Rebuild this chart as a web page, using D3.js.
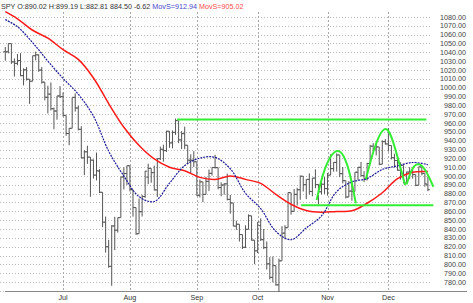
<!DOCTYPE html>
<html>
<head>
<meta charset="utf-8">
<script src="https://cdn.jsdelivr.net/npm/d3@7"></script>
<style>
  body { margin: 0; background: #fff; }
  svg { display: block; font-family: "Liberation Sans", Arial, sans-serif; }
</style>
</head>
<body>
<script>
// trading days shown (2002)
var dates = [
  "06-04","06-05","06-06","06-07","06-10","06-11","06-12","06-13","06-14","06-17","06-18","06-19","06-20","06-21","06-24","06-25","06-26","06-27","06-28",
  "07-01","07-02","07-03","07-05","07-08","07-09","07-10","07-11","07-12","07-15","07-16","07-17","07-18","07-19","07-22","07-23","07-24","07-25","07-26","07-29","07-30","07-31",
  "08-01","08-02","08-05","08-06","08-07","08-08","08-09","08-12","08-13","08-14","08-15","08-16","08-19","08-20","08-21","08-22","08-23","08-26","08-27","08-28","08-29","08-30",
  "09-03","09-04","09-05","09-06","09-09","09-10","09-11","09-12","09-13","09-16","09-17","09-18","09-19","09-20","09-23","09-24","09-25","09-26","09-27","09-30",
  "10-01","10-02","10-03","10-04","10-07","10-08","10-09","10-10","10-11","10-14","10-15","10-16","10-17","10-18","10-21","10-22","10-23","10-24","10-25","10-28","10-29","10-30","10-31",
  "11-01","11-04","11-05","11-06","11-07","11-08","11-11","11-12","11-13","11-14","11-15","11-18","11-19","11-20","11-21","11-22","11-25","11-26","11-27","11-29",
  "12-02","12-03","12-04","12-05","12-06","12-09","12-10","12-11","12-12","12-13","12-16","12-17","12-18","12-19"
];
var open = [1040.68,1040.69,1049.90,1029.15,1027.53,1030.74,1013.60,1020.26,1009.56,1007.27,1036.17,1037.14,1019.99,1006.29,989.14,992.72,976.14,973.53,990.64,
  989.82,968.65,948.09,953.99,989.03,976.98,952.83,920.47,927.37,921.39,917.93,901.05,905.45,881.56,847.76,819.85,797.71,843.42,838.68,852.84,898.96,902.78,
  911.62,884.40,864.24,834.60,859.57,876.77,898.73,908.64,903.80,884.21,919.62,930.25,928.77,950.70,937.43,949.36,962.70,940.86,947.95,934.82,917.87,917.80,
  916.07,878.02,893.40,879.15,893.92,902.96,909.58,909.45,886.91,889.81,891.10,873.52,869.46,843.32,845.39,833.70,819.27,839.66,854.95,827.37,
  815.28,843.77,827.91,818.95,800.58,785.28,798.55,776.76,803.92,835.32,841.44,881.04,860.02,879.20,884.39,899.72,890.16,896.14,882.50,897.65,890.23,882.15,890.71,
  885.76,900.96,908.35,915.39,923.76,902.65,894.74,876.19,882.95,882.53,904.27,909.83,900.36,896.74,914.15,933.76,930.55,932.87,913.31,938.87,
  936.31,934.53,920.75,917.58,906.55,912.23,892.00,904.45,904.96,901.58,889.48,910.40,902.99,890.02];
var high = [1046.06,1050.11,1049.90,1033.02,1038.18,1039.04,1021.85,1023.47,1009.56,1036.17,1040.83,1037.61,1023.33,1006.29,1002.11,1005.88,977.43,990.67,1001.79,
  994.46,968.65,954.30,989.07,993.56,979.63,956.34,929.16,934.31,921.39,918.65,926.52,907.80,881.56,854.13,827.69,844.32,853.83,852.85,898.96,909.81,911.64,
  911.62,884.72,864.24,874.44,878.74,905.84,913.95,908.64,911.71,920.21,933.29,935.38,951.17,950.70,951.59,965.00,962.70,950.80,955.82,934.82,924.59,928.15,
  916.07,896.10,893.40,899.07,907.34,909.89,924.02,909.45,892.75,891.84,902.68,878.45,869.46,849.32,845.39,833.70,844.22,856.60,854.95,827.37,
  847.93,851.93,840.02,825.90,808.21,808.86,798.55,806.51,843.27,844.39,881.27,881.04,885.35,886.68,900.69,899.72,896.14,902.94,897.71,907.44,890.64,895.28,898.83,
  903.42,924.58,915.83,925.66,923.76,910.11,894.74,894.30,892.51,904.27,910.21,915.91,905.45,915.01,935.13,937.15,937.15,932.87,940.41,941.82,
  954.28,934.53,925.25,921.49,915.48,912.23,904.95,909.94,908.37,901.58,910.42,910.40,902.99,899.19];
var low = [1030.52,1038.84,1026.91,1012.49,1025.45,1012.94,1002.58,1008.12,981.63,1007.27,1030.92,1017.88,1004.59,985.65,970.85,974.21,952.92,963.74,988.31,
  967.43,945.54,934.87,953.99,972.91,951.71,920.29,900.94,913.71,876.46,897.13,895.03,880.60,842.07,813.26,796.13,775.68,816.11,835.92,852.84,884.70,889.88,
  882.48,853.95,833.44,834.60,854.15,875.17,890.77,892.38,883.62,876.20,918.17,916.21,927.21,931.86,931.32,946.43,937.17,930.42,930.36,913.21,903.33,910.17,
  877.51,875.73,870.50,879.15,882.92,900.50,908.47,884.84,877.04,878.91,872.38,857.39,843.09,839.09,825.76,817.38,818.46,839.66,826.84,800.20,
  812.82,826.50,817.25,794.10,782.96,779.50,775.80,768.63,803.92,828.37,841.44,856.28,860.02,866.58,873.06,882.40,873.82,879.00,877.03,886.15,867.91,879.19,879.75,
  877.71,900.96,904.91,905.00,898.68,891.62,874.63,876.19,872.05,882.53,895.35,899.48,893.09,894.93,914.15,928.45,923.31,912.10,913.31,935.58,
  927.72,918.73,909.51,905.90,895.96,891.97,892.00,896.48,897.00,888.48,889.48,900.77,887.82,882.81];
var close = [1040.69,1049.90,1029.15,1027.53,1030.74,1013.60,1020.26,1009.56,1007.27,1036.17,1037.14,1019.99,1006.29,989.14,992.72,976.14,973.53,990.64,989.82,
  968.65,948.09,953.99,989.03,976.98,952.83,920.47,927.37,921.39,917.93,900.94,906.04,881.56,847.75,819.85,797.70,843.43,838.68,852.84,898.96,902.78,911.62,
  884.66,864.24,834.60,859.57,876.77,905.46,908.64,903.80,884.21,919.62,930.25,928.77,950.70,937.43,949.36,962.70,940.86,947.95,934.82,917.87,917.80,916.07,
  878.02,893.40,879.15,893.92,902.96,909.58,909.45,886.91,889.81,891.10,873.52,869.46,843.32,845.39,833.70,819.29,839.66,854.95,827.37,815.28,
  847.91,827.91,818.95,800.58,785.28,798.55,776.76,803.92,835.32,841.44,881.27,860.02,879.20,884.39,899.72,890.16,896.14,882.50,897.65,890.23,882.15,890.71,885.76,
  900.96,908.35,915.39,923.76,902.65,894.74,876.19,882.95,882.53,904.27,909.83,900.36,896.74,914.15,933.76,930.55,932.87,913.31,938.87,936.31,
  934.53,920.75,917.58,906.55,912.23,892.00,904.45,904.96,901.58,889.48,910.40,902.99,891.12,884.50];

// moving averages read at every 5th bar
var maIdx = [0,4,9,14,19,24,29,34,39,44,49,54,59,64,69,74,79,84,89,94,99,104,109,114,119,124,129,134,139];
var ma20 = [1077,1069,1051,1030,1010.45,992.59,967.65,928.04,899.93,876.62,871.16,891.85,911.80,920.23,921.03,908.24,880.52,863.03,837.29,827.84,841.26,854.75,882.45,893.31,897.09,907.40,911.47,915.28,912.94];
var ma40 = [1086,1078,1065,1056,1043,1032,1011,982,955.19,934.61,919.41,909.94,905.87,898.42,896.10,900.04,896.16,891.63,879.16,868.04,860.89,858.89,859.87,860.58,869.17,881.07,896.96,904.29,905.02];

// green annotations: [bar index, price]
var levels = [
  [[56.5, 964], [138.5, 964]],
  [[97.3, 867], [140.8, 867]]
];
var arcs = [
  [[102.4, 872.8], [105.2, 908.6], [109.3, 928.2], [112.8, 908.6], [115.3, 869.0]],
  [[118.6, 896.5], [121.6, 933.1], [125.1, 953.2], [128.2, 931.3], [131.5, 889.7]],
  [[132.0, 890.5], [133.7, 906.7], [135.7, 913.2], [138.1, 906.7], [140.8, 887.8]]
];

var monthNames = ["Jul", "Aug", "Sep", "Oct", "Nov", "Dec"];
var yTicks = d3.range(780, 1081, 10);

var width = 473, height = 303;
var svg = d3.select("body").append("svg")
  .attr("width", width)
  .attr("height", height);

var x = d3.scaleLinear().domain([0, 139]).range([5.3, 427.9]);
var y = d3.scaleLinear().domain([780, 1080]).range([282, 17]);

// month starts
var monthStarts = [];
dates.forEach(function(d, i) {
  if (i > 0 && d.slice(0, 2) !== dates[i - 1].slice(0, 2)) monthStarts.push(i);
});

// horizontal grid
svg.append("g").selectAll("line")
  .data(yTicks.concat([770]))
  .enter().append("line")
    .attr("x1", 0).attr("x2", 430)
    .attr("y1", function(d) { return Math.round(y(d)) + 0.5; })
    .attr("y2", function(d) { return Math.round(y(d)) + 0.5; })
    .attr("stroke", "#b8b8b8")
    .attr("stroke-dasharray", "1,2");

// vertical grid
svg.append("g").selectAll("line")
  .data(monthStarts)
  .enter().append("line")
    .attr("x1", function(d) { return Math.round(x(d)) + 0.5; })
    .attr("x2", function(d) { return Math.round(x(d)) + 0.5; })
    .attr("y1", 12).attr("y2", 291)
    .attr("stroke", "#a8a8a8")
    .attr("stroke-dasharray", "2,2");

// bottom axis line
svg.append("line")
  .attr("x1", 5).attr("x2", 467)
  .attr("y1", 291.5).attr("y2", 291.5)
  .attr("stroke", "#888");

// y labels on the right
svg.append("g").selectAll("text")
  .data(yTicks)
  .enter().append("text")
    .attr("x", 466)
    .attr("y", function(d) { return y(d) + 2.5; })
    .attr("text-anchor", "end")
    .attr("font-size", "7.2px")
    .attr("fill", "#444")
    .text(function(d) { return d3.format(".2f")(d); });

// month labels
svg.append("g").selectAll("text")
  .data(monthStarts)
  .enter().append("text")
    .attr("x", function(d) { return x(d); })
    .attr("y", 300)
    .attr("text-anchor", "middle")
    .attr("font-size", "7.2px")
    .attr("fill", "#333")
    .text(function(d, i) { return monthNames[i]; });

// OHLC bars
var bars = svg.append("g").attr("stroke", "#555").attr("stroke-width", 1);
dates.forEach(function(d, i) {
  var cx = x(i);
  bars.append("line").attr("x1", cx).attr("x2", cx).attr("y1", y(high[i])).attr("y2", y(low[i]));
  bars.append("line").attr("x1", cx - 2).attr("x2", cx).attr("y1", y(open[i])).attr("y2", y(open[i]));
  bars.append("line").attr("x1", cx).attr("x2", cx + 2).attr("y1", y(close[i])).attr("y2", y(close[i]));
});

// moving averages
var maLine = d3.line()
  .x(function(d) { return x(d[0]); })
  .y(function(d) { return y(d[1]); })
  .curve(d3.curveCatmullRom);

svg.append("path")
  .datum(maIdx.map(function(v, i) { return [v, ma40[i]]; }))
  .attr("d", maLine)
  .attr("fill", "none")
  .attr("stroke", "#ff1a1a")
  .attr("stroke-width", 1.5);

svg.append("path")
  .datum(maIdx.map(function(v, i) { return [v, ma20[i]]; }))
  .attr("d", maLine)
  .attr("fill", "none")
  .attr("stroke", "#1c1c96")
  .attr("stroke-width", 1.2)
  .attr("stroke-dasharray", "2,1");

// green annotations
var straight = d3.line()
  .x(function(d) { return x(d[0]); })
  .y(function(d) { return y(d[1]); });
var curved = d3.line()
  .x(function(d) { return x(d[0]); })
  .y(function(d) { return y(d[1]); })
  .curve(d3.curveNatural);

svg.append("g").selectAll("path")
  .data(levels)
  .enter().append("path")
    .attr("d", straight)
    .attr("fill", "none")
    .attr("stroke", "#33ee33")
    .attr("stroke-width", 2);

svg.append("g").selectAll("path")
  .data(arcs)
  .enter().append("path")
    .attr("d", curved)
    .attr("fill", "none")
    .attr("stroke", "#33ee33")
    .attr("stroke-width", 2);

// header
var last = dates.length - 1;
var header = svg.append("text")
  .attr("x", 1)
  .attr("y", 9)
  .attr("font-size", "7.2px")
  .attr("fill", "#333");
header.append("tspan")
  .text("SPY O:" + open[last].toFixed(2) + " H:" + high[last].toFixed(2) + " L:" + low[last].toFixed(2) + " " +
        close[last].toFixed(2) + " " + (close[last] - close[last - 1]).toFixed(2) + " ");
header.append("tspan").attr("fill", "#4848c8").text("MovS=" + ma20[ma20.length - 1].toFixed(2) + " ");
header.append("tspan").attr("fill", "#ff4a4a").text("MovS=" + ma40[ma40.length - 1].toFixed(2));
</script>
</body>
</html>
